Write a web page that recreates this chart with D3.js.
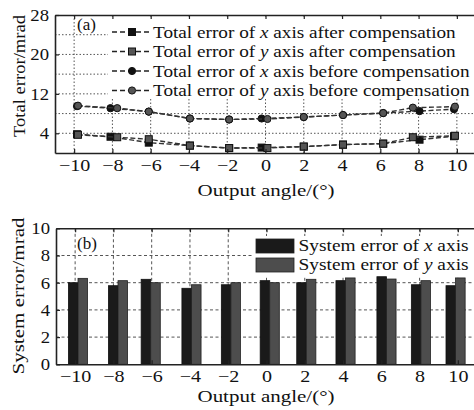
<!DOCTYPE html>
<html>
<head>
<meta charset="utf-8">
<script src="https://cdn.jsdelivr.net/npm/d3@7/dist/d3.min.js"></script>
<style>
  body { margin: 0; background: #fff; }
  text { font-family: "Liberation Serif", "Times New Roman", serif; fill: #111; }
</style>
</head>
<body>
<svg id="chart" width="474" height="410"></svg>
<script>
// tick values shared by both panels
var angleTicks = [-10, -8, -6, -4, -2, 0, 2, 4, 6, 8, 10];

// measured output angles (the two axes were sampled at slightly different angles)
var anglesX = [-9.85, -8.1, -6.1, -3.95, -1.9, -0.2, 2.0, 4.05, 6.15, 8.05, 9.85];
var anglesY = [-9.8, -7.75, -6.1, -3.95, -1.9, 0.1, 2.0, 4.05, 6.15, 7.7, 9.9];

// panel (a): total error, mrad
var totalXAfter  = [3.8, 3.3, 2.1, 1.5, 1.0, 1.1, 1.3, 1.7, 1.9, 2.7, 3.4];
var totalYAfter  = [3.7, 3.2, 2.8, 1.5, 1.0, 1.0, 1.3, 1.7, 1.9, 3.2, 3.5];
var totalXBefore = [9.5, 9.1, 8.4, 7.0, 6.8, 7.0, 7.3, 7.7, 8.1, 8.5, 8.9];
var totalYBefore = [9.6, 9.1, 8.4, 7.0, 6.8, 6.9, 7.3, 7.7, 8.1, 9.2, 9.4];
var totalTicks = [4, 12, 20, 28];
var totalGrid = [4, 8, 12, 16, 20, 24];

// panel (b): system error, mrad
var barAngles = [-9.85, -7.76, -6.05, -3.92, -1.86, 0.17, 2.08, 4.13, 6.27, 8.07, 9.88];
var systemX = [6.0, 5.78, 6.25, 5.59, 5.85, 6.15, 6.0, 6.15, 6.44, 5.85, 5.78];
var systemY = [6.32, 6.15, 6.0, 5.85, 6.0, 6.0, 6.25, 6.35, 6.27, 6.15, 6.35];
var systemTicks = [0, 2, 4, 6, 8, 10];
var systemGrid = [2, 4, 6, 8];

var svg = d3.select("#chart");
var fontSize = 17;

// horizontal stretch of the original typesetting
function stretch(sel, k) {
  sel.each(function () {
    var w = this.getComputedTextLength();
    d3.select(this).attr("textLength", w * k).attr("lengthAdjust", "spacingAndGlyphs");
  });
}
function fitTo(sel, len) {
  sel.attr("textLength", len).attr("lengthAdjust", "spacingAndGlyphs");
}
// label with italic axis letter
function richLabel(sel, pre, it, post) {
  sel.append("tspan").text(pre);
  sel.append("tspan").style("font-style", "italic").text(it);
  sel.append("tspan").text(post);
}

function frame(g, x, y, left, right, top, bottom, gridDash, gridY) {
  // grid
  g.selectAll("line.vgrid")
    .data(angleTicks)
    .enter().append("line")
      .attr("class", "vgrid")
      .attr("x1", d => x(d)).attr("x2", d => x(d))
      .attr("y1", top).attr("y2", bottom)
      .attr("stroke", "#555").attr("stroke-width", 1)
      .attr("stroke-dasharray", gridDash);
  g.selectAll("line.hgrid")
    .data(gridY)
    .enter().append("line")
      .attr("class", "hgrid")
      .attr("x1", left).attr("x2", right)
      .attr("y1", d => y(d)).attr("y2", d => y(d))
      .attr("stroke", "#555").attr("stroke-width", 1)
      .attr("stroke-dasharray", gridDash);
}

function axes(g, x, y, left, top, bottom, yTicks) {
  var xAxis = d3.axisBottom(x).tickValues(angleTicks).tickSizeInner(-4).tickSizeOuter(0)
    .tickPadding(6).tickFormat(d3.format("d"));
  var xTop = d3.axisTop(x).tickValues(angleTicks).tickSizeInner(-4).tickSizeOuter(0).tickFormat("");
  var yAxis = d3.axisLeft(y).tickValues(yTicks).tickSizeInner(-4).tickSizeOuter(0).tickPadding(6);

  var gx = g.append("g").attr("transform", "translate(0," + bottom + ")").call(xAxis);
  var gt = g.append("g").attr("transform", "translate(0," + top + ")").call(xTop);
  var gy = g.append("g").attr("transform", "translate(" + left + ",0)").call(yAxis);

  [gx, gt, gy].forEach(function (a) {
    a.select(".domain").attr("stroke", "#222").attr("stroke-width", 1.6);
    a.selectAll(".tick line").attr("stroke", "#222").attr("stroke-width", 1.2);
    a.selectAll("text").attr("font-size", fontSize).attr("fill", "#111")
      .style("font-family", '"Liberation Serif", serif');
  });
  gx.selectAll(".tick text").call(stretch, 1.18);
  gy.selectAll(".tick text").call(stretch, 1.1);
}

// ---------------- panel (a) ----------------
var aLeft = 55, aRight = 476, aTop = 15, aBottom = 153;
var xa = d3.scaleLinear().domain([-11, 11]).range([aLeft, aRight]);
var ya = d3.scaleLinear().domain([0, 28]).range([aBottom, aTop]);

var ga = svg.append("g");
frame(ga, xa, ya, aLeft, aRight, aTop, aBottom, "1.5,2", totalGrid);

// legend background hides the grid behind it
ga.append("rect").attr("x", 108).attr("y", 18).attr("width", 380).attr("height", 81).attr("fill", "#fff");

var seriesA = [
  {vals: totalXAfter,  ang: anglesX, shape: "square", fill: "#111", name: ["Total error of ", "x", " axis after compensation"]},
  {vals: totalYAfter,  ang: anglesY, shape: "square", fill: "#555", name: ["Total error of ", "y", " axis after compensation"]},
  {vals: totalXBefore, ang: anglesX, shape: "circle", fill: "#111", name: ["Total error of ", "x", " axis before compensation"]},
  {vals: totalYBefore, ang: anglesY, shape: "circle", fill: "#555", name: ["Total error of ", "y", " axis before compensation"]}
];

var line = d3.line();
function drawMarker(g, shape, fill, cx, cy) {
  if (shape === "square") {
    g.append("rect").attr("x", cx - 3.5).attr("y", cy - 3.5).attr("width", 7).attr("height", 7)
      .attr("fill", fill).attr("stroke", "#111").attr("stroke-width", 1);
  } else {
    g.append("circle").attr("cx", cx).attr("cy", cy).attr("r", 3.6)
      .attr("fill", fill).attr("stroke", "#111").attr("stroke-width", 1);
  }
}

seriesA.forEach(function (s) {
  var pts = s.vals.map((v, i) => [xa(s.ang[i]), ya(v)]);
  ga.append("path").attr("d", line(pts)).attr("fill", "none")
    .attr("stroke", "#333").attr("stroke-width", 1.4).attr("stroke-dasharray", "5,2.5");
  pts.forEach(p => drawMarker(ga, s.shape, s.fill, p[0], p[1]));
});

// legend
var legA = ga.append("g");
seriesA.forEach(function (s, i) {
  var cy = 32 + i * 19.5;
  legA.append("line").attr("x1", 112).attr("x2", 151).attr("y1", cy).attr("y2", cy)
    .attr("stroke", "#222").attr("stroke-width", 1.6).attr("stroke-dasharray", "5,3");
  drawMarker(legA, s.shape, s.fill, 132, cy);
  var t = legA.append("text").attr("x", 153).attr("y", cy + 5.5).attr("font-size", fontSize);
  richLabel(t, s.name[0], s.name[1], s.name[2]);
  t.call(stretch, 1.13);
});

ga.append("text").attr("x", 77).attr("y", 30).attr("font-size", fontSize).text("(a)");

axes(ga, xa, ya, aLeft, aTop, aBottom, totalTicks);

ga.append("text").attr("x", 266).attr("y", 196).attr("text-anchor", "middle")
  .attr("font-size", fontSize).text("Output angle/(°)").call(fitTo, 137);
ga.append("text").attr("transform", "translate(25,76)rotate(-90)").attr("text-anchor", "middle")
  .attr("font-size", fontSize).text("Total error/mrad").call(fitTo, 122);

// ---------------- panel (b) ----------------
var bLeft = 56, bRight = 477, bTop = 228.3, bBottom = 364.3;
var xb = d3.scaleLinear().domain([-11, 11]).range([bLeft, bRight]);
var yb = d3.scaleLinear().domain([0, 10]).range([bBottom, bTop]);

var gb = svg.append("g");
frame(gb, xb, yb, bLeft, bRight, bTop, bBottom, "3,2.5", systemGrid);

gb.append("rect").attr("x", 252).attr("y", 236).attr("width", 230).attr("height", 40).attr("fill", "#fff");

var barW = 0.5;
gb.selectAll("rect.bx")
  .data(systemX)
  .enter().append("rect")
    .attr("class", "bx")
    .attr("x", (d, i) => xb(barAngles[i] - barW))
    .attr("width", (d, i) => xb(barAngles[i]) - xb(barAngles[i] - barW))
    .attr("y", d => yb(d))
    .attr("height", d => yb(0) - yb(d))
    .attr("fill", "#1a1a1a").attr("stroke", "#111").attr("stroke-width", 0.8);
gb.selectAll("rect.by")
  .data(systemY)
  .enter().append("rect")
    .attr("class", "by")
    .attr("x", (d, i) => xb(barAngles[i]))
    .attr("width", (d, i) => xb(barAngles[i] + barW) - xb(barAngles[i]))
    .attr("y", d => yb(d))
    .attr("height", d => yb(0) - yb(d))
    .attr("fill", "#4d4d4d").attr("stroke", "#222").attr("stroke-width", 0.8);

var legB = [
  {fill: "#1a1a1a", name: ["System error of ", "x", " axis"]},
  {fill: "#4d4d4d", name: ["System error of ", "y", " axis"]}
];
legB.forEach(function (s, i) {
  var top = 239 + i * 19;
  gb.append("rect").attr("x", 256).attr("y", top).attr("width", 38).attr("height", 14)
    .attr("fill", s.fill).attr("stroke", "#222").attr("stroke-width", 0.8);
  var t = gb.append("text").attr("x", 298.5).attr("y", top + 12).attr("font-size", fontSize);
  richLabel(t, s.name[0], s.name[1], s.name[2]);
  t.call(stretch, 1.14);
});

gb.append("text").attr("x", 77).attr("y", 249).attr("font-size", fontSize).text("(b)");

axes(gb, xb, yb, bLeft, bTop, bBottom, systemTicks);

gb.append("text").attr("x", 266).attr("y", 402).attr("text-anchor", "middle")
  .attr("font-size", fontSize).text("Output angle/(°)").call(fitTo, 137);
gb.append("text").attr("transform", "translate(24,296)rotate(-90)").attr("text-anchor", "middle")
  .attr("font-size", fontSize).text("System error/mrad").call(fitTo, 157);
</script>
</body>
</html>
